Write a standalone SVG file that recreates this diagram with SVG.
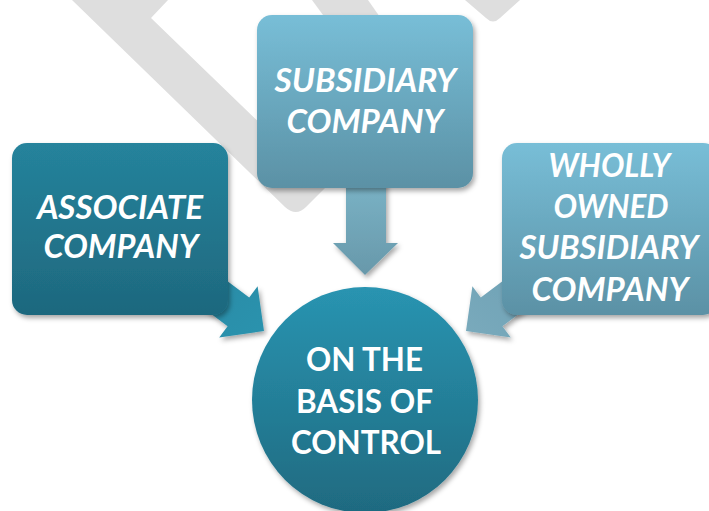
<svg xmlns="http://www.w3.org/2000/svg" width="709" height="511" viewBox="0 0 709 511">
  <defs>
    <linearGradient id="gDark" x1="0" y1="0" x2="0" y2="1">
      <stop offset="0" stop-color="#25839C"/>
      <stop offset="1" stop-color="#1E687E"/>
    </linearGradient>
    <linearGradient id="gLight" x1="0" y1="0" x2="0" y2="1">
      <stop offset="0" stop-color="#78BED7"/>
      <stop offset="1" stop-color="#5B91A5"/>
    </linearGradient>
    <linearGradient id="gCircle" x1="0" y1="0" x2="0" y2="1">
      <stop offset="0" stop-color="#2994B1"/>
      <stop offset="1" stop-color="#1F6A80"/>
    </linearGradient>
    <linearGradient id="gDown" x1="0" y1="0" x2="0" y2="1">
      <stop offset="0" stop-color="#7AB3C6"/>
      <stop offset="1" stop-color="#6898AA"/>
    </linearGradient>
    <linearGradient id="gLeftArrow" x1="0" y1="0" x2="1" y2="1">
      <stop offset="0" stop-color="#2888A3"/>
      <stop offset="1" stop-color="#2C93AE"/>
    </linearGradient>
    <linearGradient id="gRightArrow" x1="1" y1="0" x2="0" y2="1">
      <stop offset="0" stop-color="#6A9FB3"/>
      <stop offset="1" stop-color="#7AAABC"/>
    </linearGradient>
    <filter id="shadow" x="-10%" y="-10%" width="125%" height="130%">
      <feDropShadow dx="2" dy="3" stdDeviation="2.5" flood-color="#000" flood-opacity="0.35"/>
    </filter>
  </defs>
  <style>
    .mark { fill: #DEDEDE; }
    .label { fill: #FFFFFF; font-family: Lato, "Open Sans", "Liberation Sans", sans-serif; font-weight: bold; font-size: 33px; text-anchor: middle; }
    .ital { font-style: italic; }
  </style>

  <rect width="709" height="511" fill="#FFFFFF"/>

  <!-- background watermark strokes -->
  <g id="watermark">
    <path class="mark" d="M72,0 L168,0 L151,18 L326,187 L306,207 Q296,217 285,207 Z"/>
    <path class="mark" d="M312,0 L368,0 L410,60 L356,60 Z"/>
    <path class="mark" d="M465,0 L520,0 L500,18 Q493,25 486,18 Z"/>
  </g>

  <!-- block arrows -->
  <g id="connectors" filter="url(#shadow)">
    <polygon fill="url(#gLeftArrow)" points="193.2,255.4 249.2,297.4 257.6,286.2 264,331 219.2,337.4 227.6,326.2 171.6,284.2"/>
    <polygon fill="url(#gDown)" points="346,180 386,180 386,243 398,243 365,275 333,243 346,243"/>
    <polygon fill="url(#gRightArrow)" points="536.8,255.4 480.8,297.4 472.4,286.2 466,331 510.8,337.4 502.4,326.2 558.4,284.2"/>
  </g>

  <g id="associate">
    <rect x="12" y="143" width="216" height="172" rx="15" fill="url(#gDark)" filter="url(#shadow)"/>
    <text class="label ital" x="120" y="219" textLength="166" lengthAdjust="spacingAndGlyphs">ASSOCIATE</text>
    <text class="label ital" x="121" y="258" textLength="155" lengthAdjust="spacingAndGlyphs">COMPANY</text>
  </g>

  <g id="subsidiary">
    <rect x="257" y="15" width="216" height="173" rx="15" fill="url(#gLight)" filter="url(#shadow)"/>
    <text class="label ital" x="365.5" y="92" textLength="182" lengthAdjust="spacingAndGlyphs">SUBSIDIARY</text>
    <text class="label ital" x="365" y="133" textLength="157" lengthAdjust="spacingAndGlyphs">COMPANY</text>
  </g>

  <g id="wholly-owned">
    <rect x="502" y="143" width="216" height="172" rx="15" fill="url(#gLight)" filter="url(#shadow)"/>
    <text class="label ital" x="609.5" y="177" textLength="122" lengthAdjust="spacingAndGlyphs">WHOLLY</text>
    <text class="label ital" x="611" y="218" textLength="115" lengthAdjust="spacingAndGlyphs">OWNED</text>
    <text class="label ital" x="609" y="259" textLength="179" lengthAdjust="spacingAndGlyphs">SUBSIDIARY</text>
    <text class="label ital" x="610" y="301" textLength="157" lengthAdjust="spacingAndGlyphs">COMPANY</text>
  </g>

  <g id="control">
    <circle cx="365" cy="400" r="113" fill="url(#gCircle)" filter="url(#shadow)"/>
    <text class="label" x="364.5" y="371" textLength="117" lengthAdjust="spacingAndGlyphs">ON THE</text>
    <text class="label" x="364.5" y="413" textLength="137" lengthAdjust="spacingAndGlyphs">BASIS OF</text>
    <text class="label" x="366" y="454" textLength="150" lengthAdjust="spacingAndGlyphs">CONTROL</text>
  </g>
</svg>
